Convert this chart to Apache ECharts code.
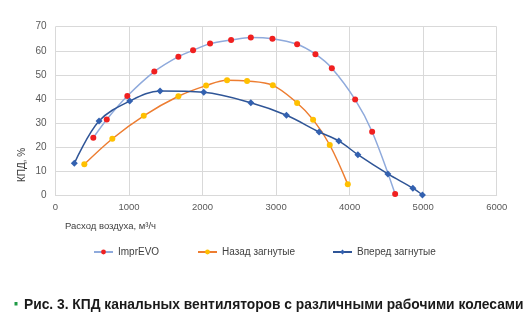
<!DOCTYPE html>
<html>
<head>
<meta charset="utf-8">
<script src="https://cdn.jsdelivr.net/npm/echarts@6/dist/echarts.min.js"></script>
<style>html,body{margin:0;padding:0;background:#fff}#c{width:530px;height:322px}</style>
</head>
<body>
<div id="c"></div>
<script>
var seriesNames = ['ImprEVO', 'Назад загнутые', 'Вперед загнутые'];
var imprFlow = [514, 697, 977, 1344, 1671, 1871, 2102, 2388, 2656, 2950, 3286, 3535, 3758, 4075, 4306, 4619];
var imprEff  = [24.0, 31.6, 41.3, 51.4, 57.6, 60.2, 63.0, 64.5, 65.5, 65.0, 62.7, 58.6, 52.8, 39.8, 26.5, 0.7];
var backFlow = [392, 773, 1200, 1671, 2048, 2333, 2605, 2955, 3286, 3503, 3730, 3975];
var backEff  = [13.0, 23.6, 33.1, 41.2, 45.6, 47.8, 47.5, 45.7, 38.4, 31.5, 21.0, 4.7];
var fwdFlow  = [256, 592, 1009, 1422, 2016, 2656, 3141, 3585, 3853, 4112, 4520, 4860, 4990];
var fwdEff   = [13.4, 30.9, 39.2, 43.4, 42.8, 38.5, 33.3, 26.4, 22.7, 17.0, 9.0, 3.1, 0.3];
var xTicks = [0, 1000, 2000, 3000, 4000, 5000, 6000];
var yTicks = [0, 10, 20, 30, 40, 50, 60, 70];
var xTitle = 'Расход воздуха, м³/ч';
var yTitle = 'КПД, %';
var caption = 'Рис. 3. КПД канальных вентиляторов с различными рабочими колесами';

function zip(a, b) { return a.map(function (v, i) { return [v, b[i]]; }); }

var chart = echarts.init(document.getElementById('c'));
var font = 'Liberation Sans, Arial, sans-serif';
var legendBase = {
  orient: 'horizontal', top: 247, padding: 0, itemWidth: 19, itemHeight: 6,
  textStyle: { fontFamily: font, fontSize: 10, color: '#404040' }, selectedMode: false
};
chart.setOption({
  animation: false,
  grid: { left: 55.5, right: 33.3, top: 26.7, bottom: 126.3, containLabel: false },
  xAxis: {
    type: 'value', min: xTicks[0], max: xTicks[xTicks.length - 1], interval: 1000,
    axisLine: { show: true, lineStyle: { color: '#d9d9d9' } },
    axisTick: { show: false },
    axisLabel: { color: '#595959', fontFamily: font, fontSize: 9.5, margin: 7,
      formatter: function (v) { return String(v); } },
    splitLine: { show: true, lineStyle: { color: '#d9d9d9' } }
  },
  yAxis: {
    type: 'value', min: yTicks[0], max: yTicks[yTicks.length - 1], interval: 10,
    axisLine: { show: false },
    axisTick: { show: false },
    axisLabel: { color: '#595959', fontFamily: font, fontSize: 10, margin: 9,
      formatter: function (v) { return String(v); } },
    splitLine: { show: true, lineStyle: { color: '#d9d9d9' } }
  },
  legend: [
    Object.assign({ left: 93, data: [seriesNames[0]] }, legendBase),
    Object.assign({ left: 197, data: [seriesNames[1]] }, legendBase),
    Object.assign({ left: 332, data: [seriesNames[2]] }, legendBase)
  ],
  graphic: [
    { type: 'text', left: 65, top: 221, style: { text: xTitle, font: '9.5px ' + font, fill: '#404040' } },
    { type: 'text', x: 22.7, y: 165, rotation: Math.PI / 2,
      style: { text: yTitle, font: '10px ' + font, fill: '#404040', align: 'center', verticalAlign: 'middle' } },
    { type: 'rect', shape: { x: 14.5, y: 302, width: 3, height: 3.5 }, style: { fill: '#1f9a45' } },
    { type: 'text', x: 24, y: 305.5, style: { text: caption, font: 'bold 13.8px ' + font, fill: '#1a1a1a', verticalAlign: 'middle' } }
  ],
  series: [
    { name: seriesNames[0], type: 'line', smooth: 0.35, data: zip(imprFlow, imprEff),
      symbol: 'circle', symbolSize: 6,
      lineStyle: { color: '#8faadc', width: 1.5 }, itemStyle: { color: '#f02020' } },
    { name: seriesNames[1], type: 'line', smooth: 0.35, data: zip(backFlow, backEff),
      symbol: 'circle', symbolSize: 6,
      lineStyle: { color: '#ed7d31', width: 1.5 }, itemStyle: { color: '#ffc000' } },
    { name: seriesNames[2], type: 'line', smooth: 0.35, data: zip(fwdFlow, fwdEff),
      symbol: 'diamond', symbolSize: 7,
      lineStyle: { color: '#2f5597', width: 1.5 }, itemStyle: { color: '#3361b0' } }
  ]
});
</script>
</body>
</html>
